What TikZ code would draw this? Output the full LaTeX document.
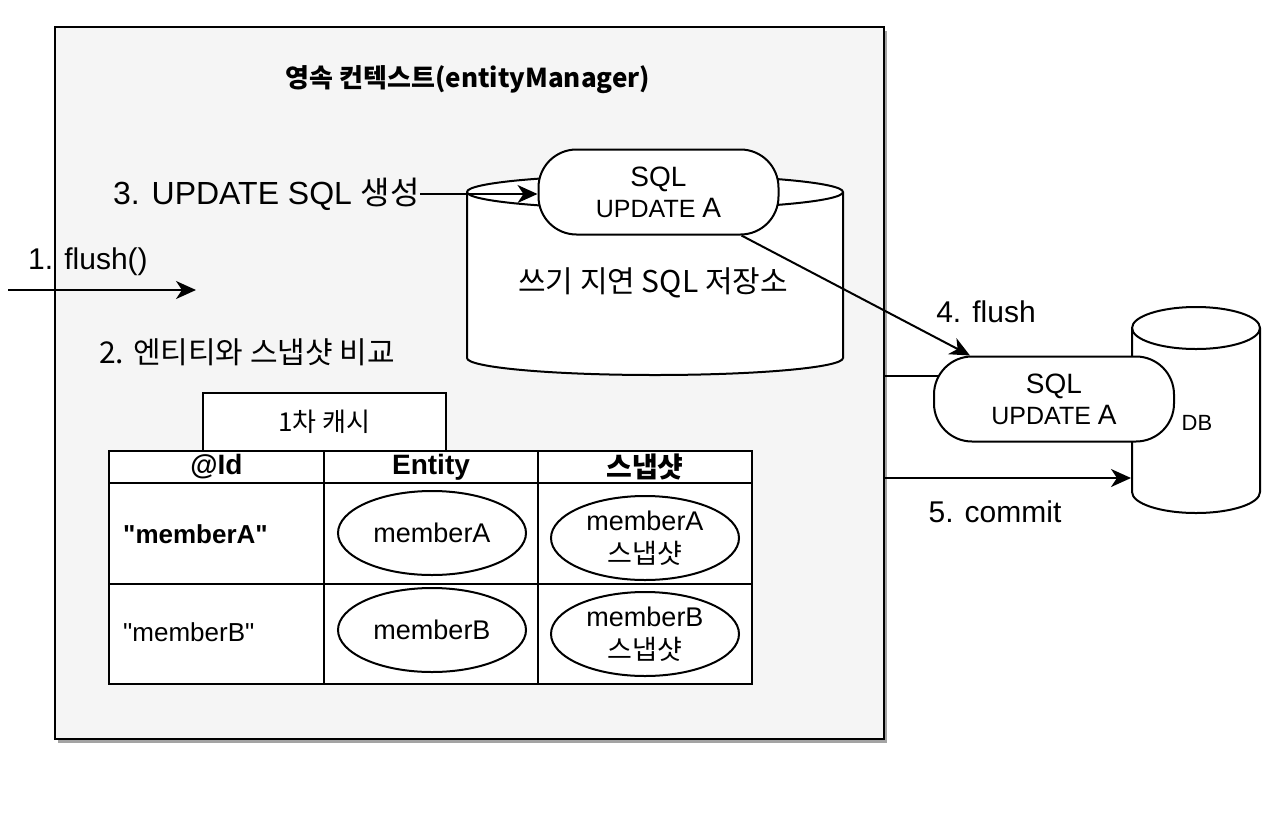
\documentclass[tikz,border=0pt]{standalone}
\usepackage{fontspec}
\setmainfont{Liberation Sans}[Ligatures=TeXOff]
\newfontfamily\kr{Noto Sans CJK KR}
\usetikzlibrary{positioning, shapes.geometric, arrows.meta, shadows}

\tikzset{
  box/.style={draw, line width=2pt, fill=white},
  pill/.style={box, rounded corners=38pt, minimum width=240pt, minimum height=85pt, align=center, inner sep=0pt, font=\fontsize{25}{31}\selectfont},
  body/.style={inner sep=0pt, outer sep=0pt},
  cell/.style={box, minimum width=214.5pt, inner sep=0pt, font=\bfseries\fontsize{28}{30}\selectfont},
  blob/.style={box, ellipse, minimum width=188pt, minimum height=84pt, inner sep=0pt, align=center, font=\fontsize{27}{33}\selectfont},
  lbl/.style={inner sep=0pt, font=\fontsize{30}{36}\selectfont},
  arr/.style={line width=2pt, -{Stealth[length=20pt, width=18pt, inset=6pt]}},
  wire/.style={line width=2pt},
}
\newcommand\bigA{{\fontsize{28}{31}\selectfont A}}
\newcommand\bigSQL{{\fontsize{28}{31}\selectfont SQL}}

\begin{document}
\begin{tikzpicture}[x=1pt, y=-1pt]
    \useasboundingbox (0,0) rectangle (1280,812);
    % persistence context
    \node[draw, line width=2.5pt, fill=black!4, minimum width=829pt, minimum height=712pt,
          drop shadow={shadow xshift=3pt, shadow yshift=-4pt, fill=black!60, opacity=0.6}] (ctx) at (469.5,383) {};
    \node[inner sep=0pt, font={\kr\bfseries\fontsize{26}{30}\selectfont}] (title) at (468,80) {영속 컨텍스트(entityManager)};

    % write-behind store
    \node[body, minimum width=376pt, minimum height=166pt] (store) at (655,275) {};
    \draw[box] (store.north west) -- (store.south west)
        arc[start angle=180, end angle=360, x radius=188pt, y radius=17pt] -- (store.north east)
        arc[start angle=0, end angle=180, x radius=188pt, y radius=17pt] -- cycle;
    \draw[wire] (store.north west) arc[start angle=180, end angle=360, x radius=188pt, y radius=17pt];
    \node[lbl, font={\kr\fontsize{30}{36}\selectfont}] (storetxt) at (653,283) {쓰기 지연 SQL 저장소};
    \node[pill] (sql1) at (658.5,192) {\bigSQL\\UPDATE \bigA};

    % database
    \node[body, minimum width=128pt, minimum height=164pt] (db) at (1196,410) {};
    \draw[box] (db.north west) -- (db.south west)
        arc[start angle=180, end angle=360, x radius=64pt, y radius=21pt] -- (db.north east)
        arc[start angle=0, end angle=180, x radius=64pt, y radius=21pt] -- cycle;
    \draw[wire] (db.north west) arc[start angle=180, end angle=360, x radius=64pt, y radius=21pt];
    \node[inner sep=0pt, font=\fontsize{22}{24}\selectfont] (dbtxt) at (1197,423) {DB};
    \node[pill] (sql2) at (1054,399) {\bigSQL\\UPDATE \bigA};

    % steps
    \node[lbl, anchor=west] (step1) at (28,262) {1. flush()};
    \node[lbl, font={\kr\fontsize{30}{36}\selectfont}] (step2) at (247,352) {2. 엔티티와 스냅샷 비교};
    \node[lbl, anchor=east, font=\fontsize{32}{36}\selectfont] (step3) at (420,194) {3. UPDATE SQL {\kr 생성}};
    \node[lbl] (step4) at (986,312) {4. flush};
    \node[lbl] (step5) at (995,512) {5. commit};

    \coordinate (flin) at (8,290);
    \coordinate (flout) at (196,290);
    \coordinate (tap) at ([xshift=5pt, yshift=23pt]sql2.west);
    \coordinate (dbin) at (1131,478);
    \draw[arr] (flin) -- (flout);
    \draw[arr] (step3.east) -- (step3.east -| sql1.west);
    \draw[arr] ([xshift=-38pt]sql1.south east) -- ([xshift=37pt]sql2.north west);
    \draw[wire] (ctx.east |- tap) -- (tap);
    \draw[arr] (ctx.east |- dbin) -- (dbin);

    % first-level cache
    \node[box, minimum width=243pt, minimum height=58pt, inner sep=0pt, font={\kr\fontsize{26}{28}\selectfont}] (cache) at (324.5,422) {1차 캐시};
    \foreach \col/\x/\head in {id/216.5/@Id, ent/431/Entity, snap/645/{\kr 스냅샷}} {
        \node[cell, minimum height=32pt] (h\col) at (\x,467) {\head};
        \node[cell, minimum height=101pt] (a\col) at (\x,533.5) {};
        \node[cell, minimum height=100pt] (b\col) at (\x,634) {};
    }
    \node[anchor=west, inner sep=0pt, font=\bfseries\fontsize{26}{28}\selectfont] (keya) at (123,534) {"memberA"};
    \node[anchor=west, inner sep=0pt, font=\fontsize{26}{28}\selectfont] (keyb) at (123,632) {"memberB"};
    \node[blob] (enta) at (432,533) {memberA};
    \node[blob] (entb) at (432,630) {memberB};
    \node[blob] (snapa) at (645,538) {memberA\\{\kr 스냅샷}};
    \node[blob] (snapb) at (645,634) {memberB\\{\kr 스냅샷}};
\end{tikzpicture}
\end{document}
